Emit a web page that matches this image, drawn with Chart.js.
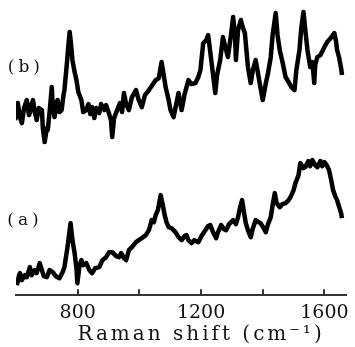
<!DOCTYPE html>
<html>
<head>
<meta charset="utf-8">
<script src="https://cdn.jsdelivr.net/npm/chart.js@4.4.1/dist/chart.umd.min.js"></script>
<style>
  html, body { margin: 0; padding: 0; background: #fff; }
  .chart-wrapper { width: 355px; height: 347px; }
</style>
</head>
<body>
<div class="chart-wrapper"><canvas id="chart"></canvas></div>
<script>
// Raman shift (cm-1) and relative intensity (arbitrary units) for the two spectra
const shiftB = [597, 603, 606, 613, 619, 626, 635, 642, 645, 651, 655, 661, 667, 674, 684, 687, 693, 700, 703, 709,
  716, 719, 725, 732, 735, 741, 748, 754, 757, 764, 770, 774, 777, 783, 790, 796, 802, 812, 818, 828,
  835, 841, 847, 854, 860, 870, 876, 886, 892, 902, 908, 912, 918, 928, 937, 944, 950, 957, 966, 976,
  989, 998, 1008, 1018, 1031, 1040, 1053, 1063, 1072, 1079, 1085, 1095, 1101, 1111, 1117, 1127, 1137, 1146, 1159, 1169,
  1182, 1191, 1198, 1207, 1217, 1223, 1233, 1239, 1246, 1252, 1262, 1271, 1281, 1287, 1297, 1304, 1310, 1313, 1320, 1329,
  1336, 1342, 1352, 1361, 1368, 1377, 1384, 1390, 1400, 1410, 1416, 1426, 1432, 1442, 1448, 1455, 1464, 1474, 1484, 1493,
  1503, 1509, 1519, 1525, 1532, 1538, 1545, 1554, 1561, 1567, 1570, 1577, 1587, 1600, 1609, 1615, 1625, 1632, 1638, 1641,
  1648, 1654, 1657]
const intensityB = [175, 185, 192, 177, 172, 187, 195, 180, 182, 191, 195, 183, 175, 187, 185, 167, 153, 167, 165, 183,
  208, 190, 178, 193, 195, 183, 185, 200, 205, 228, 250, 263, 255, 235, 223, 215, 203, 195, 183, 185,
  191, 181, 188, 177, 187, 182, 191, 185, 190, 181, 175, 158, 177, 185, 192, 183, 202, 191, 185, 198,
  205, 195, 188, 200, 205, 209, 215, 217, 233, 220, 208, 195, 185, 178, 187, 202, 185, 200, 215, 211,
  212, 218, 225, 252, 255, 260, 235, 220, 202, 220, 235, 258, 245, 238, 260, 278, 260, 235, 265, 275,
  267, 262, 228, 212, 225, 235, 223, 212, 195, 212, 220, 238, 260, 282, 260, 245, 233, 218, 213, 208,
  205, 225, 245, 267, 283, 265, 245, 228, 233, 212, 230, 238, 240, 248, 253, 255, 259, 262, 253, 245,
  237, 227, 220]

const shiftA = [603, 610, 613, 619, 629, 635, 645, 651, 661, 667, 677, 684, 690, 700, 709, 719, 729, 741, 751, 757,
  767, 774, 777, 783, 790, 796, 799, 806, 812, 818, 828, 838, 847, 857, 870, 880, 892, 902, 912, 925,
  934, 941, 950, 957, 966, 976, 989, 998, 1008, 1021, 1031, 1040, 1047, 1053, 1060, 1069, 1076, 1082, 1088, 1095,
  1104, 1117, 1127, 1137, 1146, 1153, 1159, 1169, 1178, 1191, 1201, 1214, 1223, 1230, 1239, 1249, 1255, 1265, 1274, 1281,
  1291, 1304, 1313, 1320, 1326, 1333, 1339, 1345, 1352, 1361, 1368, 1377, 1387, 1393, 1403, 1410, 1416, 1426, 1432, 1439,
  1445, 1455, 1464, 1474, 1484, 1490, 1500, 1506, 1516, 1522, 1532, 1538, 1548, 1554, 1561, 1570, 1577, 1587, 1593, 1600,
  1609, 1615, 1622, 1628, 1635, 1641, 1648, 1654, 1657]
const intensityA = [10, 20, 22, 15, 20, 18, 28, 20, 25, 22, 32, 25, 19, 18, 25, 23, 19, 17, 23, 28,
  48, 65, 72, 55, 42, 27, 12, 30, 35, 30, 32, 25, 22, 27, 28, 35, 38, 43, 43, 39,
  38, 42, 37, 35, 45, 48, 53, 55, 57, 60, 65, 75, 73, 80, 85, 100, 90, 80, 73, 68,
  67, 63, 58, 55, 59, 60, 55, 52, 55, 53, 59, 65, 69, 70, 63, 57, 63, 70, 66, 65,
  71, 75, 71, 78, 87, 95, 83, 72, 65, 58, 67, 75, 73, 72, 67, 63, 70, 78, 90, 102,
  92, 88, 91, 92, 95, 98, 105, 112, 120, 132, 127, 128, 134, 129, 135, 130, 128, 134, 129, 133,
  129, 125, 115, 105, 99, 95, 88, 82, 77]

// axis ticks (cm-1) and which of them carry a label
const tickValues = [800, 1000, 1200, 1400, 1600]
const labelledTicks = [800, 1200, 1600]

// spectrum labels: text, shift and intensity where they are centred
const curveLabels = ["(b)", "(a)"]
const curveLabelShift = [632, 629]
const curveLabelIntensity = [227, 75]

const axisTitle = "Raman shift (cm\u207B\u00B9)"
const serif = "DejaVu Serif"

const toPoints = (xs, ys) => xs.map((x, i) => ({ x: x, y: ys[i] }))

// inner tick marks, spectrum labels and the axis title
const decorPlugin = {
  id: "decor",
  afterDraw: (chart) => {
    const ctx = chart.ctx
    const xs = chart.scales.x
    const ys = chart.scales.y
    const bottom = chart.chartArea.bottom

    ctx.save()
    ctx.strokeStyle = "#333"
    ctx.lineWidth = 2
    tickValues.forEach((v) => {
      const px = Math.round(xs.getPixelForValue(v))
      ctx.beginPath()
      ctx.moveTo(px, bottom)
      ctx.lineTo(px, bottom - 6)
      ctx.stroke()
    })

    ctx.fillStyle = "#111"
    ctx.textAlign = "center"
    ctx.textBaseline = "middle"
    ctx.font = `17px ${serif}`
    ctx.letterSpacing = "4px"
    curveLabels.forEach((t, i) => {
      ctx.fillText(t, xs.getPixelForValue(curveLabelShift[i]), ys.getPixelForValue(curveLabelIntensity[i]))
    })

    ctx.font = `20px ${serif}`
    ctx.letterSpacing = "3px"
    ctx.fillText(axisTitle, xs.getPixelForValue(1200), bottom + 40)
    ctx.restore()
  },
}

const ctx = document.getElementById("chart").getContext("2d")
new Chart(ctx, {
  type: "line",
  data: {
    datasets: [
      {
        label: "(b)",
        data: toPoints(shiftB, intensityB),
        borderColor: "#000",
        borderWidth: 4.5,
        pointRadius: 0,
        tension: 0,
        borderJoinStyle: "round",
      },
      {
        label: "(a)",
        data: toPoints(shiftA, intensityA),
        borderColor: "#000",
        borderWidth: 4.5,
        pointRadius: 0,
        tension: 0,
        borderJoinStyle: "round",
      },
    ],
  },
  options: {
    responsive: true,
    maintainAspectRatio: false,
    animation: false,
    layout: { padding: { left: 16, right: 6, top: 5, bottom: 17 } },
    plugins: { legend: { display: false }, tooltip: { enabled: false } },
    scales: {
      x: {
        type: "linear",
        min: 600,
        max: 1670,
        grid: { display: false, drawTicks: false },
        border: { display: true, color: "#333", width: 2 },
        afterBuildTicks: (scale) => {
          scale.ticks = tickValues.map((v) => ({ value: v }))
        },
        ticks: {
          autoSkip: false,
          maxRotation: 0,
          padding: 6,
          color: "#111",
          font: { family: serif, size: 19 },
          callback: (v) => (labelledTicks.includes(v) ? String(v) : ""),
        },
      },
      y: {
        display: false,
        min: 0,
        max: 290,
      },
    },
  },
  plugins: [decorPlugin],
})
</script>
</body>
</html>
